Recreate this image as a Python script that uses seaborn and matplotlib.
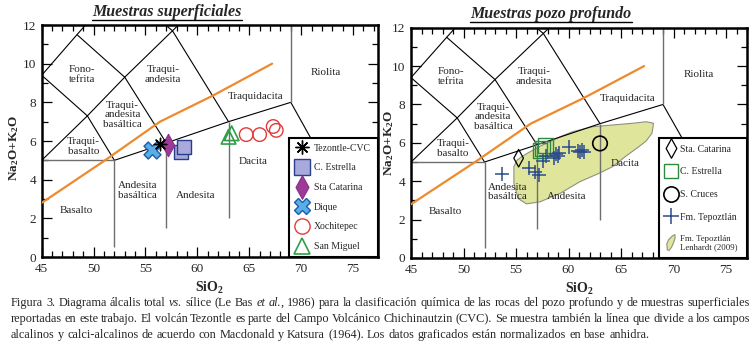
import numpy as np
import pandas as pd
import matplotlib
matplotlib.use("Agg")
import matplotlib.pyplot as plt
import matplotlib.patches as mpatches
from matplotlib.lines import Line2D
from matplotlib.path import Path
from matplotlib.legend_handler import HandlerPatch
import seaborn as sns

# ---------------- data ----------------
# Alkaline / sub-alkaline divide (Macdonald & Katsura 1964)
mk_sio2 = [45.0, 51.1, 56.4, 61.5, 67.2]
mk_alk = [2.8, 5.0, 7.0, 8.35, 10.0]

# Surface samples (left panel)
tez_sio2, tez_alk = [56.4], [5.85]
estr_sio2, estr_alk = [58.4, 58.7], [5.45, 5.7]
stac_sio2, stac_alk = [57.2], [5.8]
dique_sio2, dique_alk = [55.6], [5.55]
xoch_sio2 = [64.7, 66.0, 67.3, 67.6]
xoch_alk = [6.33, 6.33, 6.75, 6.55]
smig_sio2, smig_alk = [63.0, 63.3], [6.22, 6.4]

# Deep-well samples (right panel)
p_stac_sio2, p_stac_alk = [55.25], [5.2]
p_estr_sio2 = [57.3, 57.55, 57.8]
p_estr_alk = [5.6, 5.72, 5.85]
p_cruc_sio2, p_cruc_alk = [63.0], [5.97]
tep_sio2 = [53.7, 56.2, 56.8, 57.15, 57.6, 57.9, 58.6, 58.8, 59.0, 59.1, 60.0, 60.9, 61.1, 61.3, 61.5]
tep_alk = [4.4, 4.67, 4.5, 4.33, 5.05, 5.3, 5.2, 5.4, 5.3, 5.45, 5.78, 5.6, 5.5, 5.62, 5.5]
# Lenhardt (2009) Fm. Tepoztlán field outline
len_sio2 = [54.8, 55.1, 55.6, 56.35, 57.2, 57.9, 59.2, 60.4, 62.3, 64.2, 66.1, 67.4, 68.1,
            67.95, 67.4, 66.7, 65.4, 64.2, 62.9, 61.1, 59.2, 57.3, 56.0, 55.2, 54.8]
len_alk = [4.76, 5.1, 5.3, 5.54, 5.8, 5.98, 6.32, 6.58, 6.84, 6.93, 7.02, 7.1, 7.02,
           6.5, 6.1, 5.8, 5.28, 4.76, 4.41, 3.98, 3.37, 2.93, 2.82, 3.1, 3.9]

# TAS field boundaries (Le Bas et al. 1986)
tas_black = [
    [(45, 5), (49.4, 7.3), (52, 5)],
    [(45, 9.4), (49.4, 7.3), (53, 9.3), (57, 5.9)],
    [(45, 9.4), (48.4, 11.5), (53, 9.3), (57.6, 11.7), (63, 7)],
    [(48.4, 11.5), (52.5, 14)],
    [(57.6, 11.7), (52.5, 14)],
    [(57.6, 11.7), (61, 13.5)],
    [(52, 5), (57, 5.9), (63, 7), (69, 8)],
    [(69, 8), (77.3, 0)],
]
tas_grey = [
    [(45, 5), (52, 5)],
    [(52, 0.5), (52, 5)],
    [(57, 1.5), (57, 5.9)],
    [(63, 2), (63, 7)],
    [(69, 8), (69, 12)],
]
field_labels = [
    ("Fono-\ntefrita", 48.85, 9.45),
    ("Traqui-\nandesita", 56.7, 9.45),
    ("Riolita", 72.4, 9.55),
    ("Traquidacita", 65.6, 8.3),
    ("Traqui-\nandesita\nbasáltica", 52.8, 7.35),
    ("Traqui-\nbasalto", 49.0, 5.72),
    ("Dacita", 65.4, 4.95),
    ("Andesita\nbasáltica", 54.2, 3.45),
    ("Andesita", 59.8, 3.2),
    ("Basalto", 48.3, 2.43),
]

# ---------------- style ----------------
sns.set_style("white")
SERIF = ["Liberation Serif", "DejaVu Serif"]
plt.rcParams["font.family"] = SERIF
plt.rcParams["mathtext.fontset"] = "custom"
plt.rcParams["mathtext.rm"] = "Liberation Serif"
plt.rcParams["mathtext.bf"] = "Liberation Serif:bold"
plt.rcParams["mathtext.it"] = "Liberation Serif:italic"

W, H = 755, 348
fig = plt.figure(figsize=(W / 100, H / 100), dpi=100)
fig.patch.set_facecolor("white")

ax1 = fig.add_axes([41.7 / W, 1 - 257 / H, (378 - 41.7) / W, (257 - 25) / H])
ax2 = fig.add_axes([411 / W, 1 - 258 / H, (747 - 411) / W, (258 - 27.7) / H])

ORANGE = "#ef8a2c"
GREY = "#6e6e6e"


def tall_diamond():
    return Path([(0, 1), (0.55, 0), (0, -1), (-0.55, 0), (0, 1)],
                [Path.MOVETO, Path.LINETO, Path.LINETO, Path.LINETO, Path.CLOSEPOLY])


DIAM = tall_diamond()


def setup_axes(ax, xmax):
    ax.set_xlim(45, xmax)
    ax.set_ylim(0, 12)
    for segs, col, lw in ((tas_black, "black", 0.8), (tas_grey, GREY, 1.0)):
        for seg in segs:
            xs, ys = zip(*seg)
            ax.plot(xs, ys, color=col, lw=lw, zorder=2, solid_capstyle="butt")
    mk = pd.DataFrame({"SiO2": mk_sio2, "alk": mk_alk})
    sns.lineplot(data=mk, x="SiO2", y="alk", ax=ax, color=ORANGE, lw=1.6,
                 zorder=3, sort=False, estimator=None)
    for txt, x, y in field_labels:
        ax.text(x, y, txt, ha="center", va="center", fontsize=8,
                linespacing=1.08, zorder=3, family=SERIF)
    ax.set_xticks(range(45, 80, 5))
    ax.set_xticks(range(45, 78), minor=True)
    ax.set_yticks(range(0, 13, 2))
    ax.set_yticks(range(0, 13), minor=True)
    ax.tick_params(which="both", direction="in", top=True, right=True,
                   bottom=True, left=True, width=0.9, color="black")
    ax.tick_params(which="major", length=7, labelsize=9.5, pad=4)
    ax.tick_params(which="minor", length=4.5)
    for s in ax.spines.values():
        s.set_linewidth(1.8)
        s.set_color("black")
    ax.set_xlabel(r"SiO$_\mathbf{2}$", fontsize=10, fontweight="bold", labelpad=4)
    ax.set_ylabel(r"Na$_\mathbf{2}$O+K$_\mathbf{2}$O", fontsize=9.5, fontweight="bold")


setup_axes(ax1, 77.4)
setup_axes(ax2, 76.6)
ax1.yaxis.set_label_coords(-0.061, 0.47)
ax2.yaxis.set_label_coords(-0.045, 0.5)


def scat(ax, xs, ys, **kw):
    sns.scatterplot(x=xs, y=ys, ax=ax, legend=False, zorder=5, **kw)


# ---- left panel markers ----
scat(ax1, dique_sio2, dique_alk, marker="X", s=150, color="#58aee6",
     edgecolor="#1f5ca6", linewidth=1.0)
scat(ax1, estr_sio2, estr_alk, marker="s", s=110, color="#a9aadb",
     edgecolor="#283f8f", linewidth=1.0)
scat(ax1, stac_sio2, stac_alk, marker=DIAM, s=260, color="#9c3b97",
     edgecolor="#8a2e86", linewidth=0.8)
scat(ax1, tez_sio2, tez_alk, marker=(8, 2, 0), s=80, color="black",
     linewidth=1.0)
scat(ax1, smig_sio2, smig_alk, marker="^", s=110, facecolor="none",
     edgecolor="#2f9e48", linewidth=1.2)
scat(ax1, xoch_sio2, xoch_alk, marker="o", s=95, facecolor="none",
     edgecolor="#e23a3a", linewidth=1.0)

# ---- right panel ----
ax2.fill(len_sio2, len_alk, facecolor="#dfe59b", edgecolor="#8f9080",
         lw=0.8, zorder=1)
scat(ax2, p_stac_sio2, p_stac_alk, marker=DIAM, s=160, facecolor="none",
     edgecolor="black", linewidth=0.9)
scat(ax2, p_estr_sio2, p_estr_alk, marker="s", s=110, facecolor="none",
     edgecolor="#2b8a3e", linewidth=1.0)
scat(ax2, p_cruc_sio2, p_cruc_alk, marker="o", s=110, facecolor="none",
     edgecolor="black", linewidth=1.2)
scat(ax2, tep_sio2, tep_alk, marker="+", s=110, color="#2b4c8c",
     linewidth=1.1)

# ---------------- legends ----------------
left_handles = [
    Line2D([], [], ls="", marker=(8, 2, 0), ms=10, color="black", mew=1.0),
    Line2D([], [], ls="", marker="s", ms=11, mfc="#a9aadb", mec="#283f8f", mew=1.0),
    Line2D([], [], ls="", marker=DIAM, ms=17, mfc="#9c3b97", mec="#8a2e86", mew=0.8),
    Line2D([], [], ls="", marker="X", ms=12, mfc="#58aee6", mec="#1f5ca6", mew=1.0),
    Line2D([], [], ls="", marker="o", ms=11, mfc="none", mec="#e23a3a", mew=1.0),
    Line2D([], [], ls="", marker="^", ms=12, mfc="none", mec="#2f9e48", mew=1.2),
]
left_labels = ["Tezontle-CVC", "C. Estrella", "Sta Catarina", "Dique",
               "Xochitepec", "San Miguel"]


class BlobHandler(HandlerPatch):
    def create_artists(self, legend, orig_handle, xdescent, ydescent,
                       width, height, fontsize, trans):
        pts = [(0.15, 0.05), (0.1, 0.4), (0.3, 0.8), (0.7, 1.15), (0.95, 1.25),
               (0.95, 0.9), (0.8, 0.5), (0.6, 0.1), (0.35, -0.2), (0.15, -0.15)]
        verts = [(-xdescent + px * width, -ydescent + py * height * 1.6 - height * 0.3)
                 for px, py in pts]
        p = mpatches.Polygon(verts, closed=True, facecolor=orig_handle.get_facecolor(),
                             edgecolor=orig_handle.get_edgecolor(), lw=0.8,
                             transform=trans)
        return [p]


blob = mpatches.Patch(facecolor="#dfe59b", edgecolor="#8f9080")
right_handles = [
    Line2D([], [], ls="", marker=DIAM, ms=14, mfc="none", mec="black", mew=0.9),
    Line2D([], [], ls="", marker="s", ms=10, mfc="none", mec="#2b8a3e", mew=1.0),
    Line2D([], [], ls="", marker="o", ms=11, mfc="none", mec="black", mew=1.2),
    Line2D([], [], ls="", marker="+", ms=12, color="#2b4c8c", mew=1.1),
    blob,
]
right_labels = ["Sta. Catarina", "C. Estrella", "S. Cruces", "Fm. Tepoztlán",
                "Fm. Tepoztlán\nLenhardt (2009)"]

leg1 = ax1.legend(left_handles, left_labels, loc="lower left",
                  bbox_to_anchor=(0.735, 0.0, 0.265, 0.5), mode="expand",
                  borderaxespad=0, fancybox=False, edgecolor="black",
                  framealpha=1, handlelength=1.4, handletextpad=0.6,
                  labelspacing=1.1, borderpad=0.6, prop={"family": SERIF, "size": 7})
leg1.get_frame().set_linewidth(1.5)
leg1.set_zorder(10)

leg2 = ax2.legend(right_handles, right_labels, loc="lower left",
                  bbox_to_anchor=(0.738, 0.0, 0.262, 0.5), mode="expand",
                  borderaxespad=0, fancybox=False, edgecolor="black",
                  framealpha=1, handlelength=1.0, handletextpad=0.5,
                  labelspacing=1.4, borderpad=0.7,
                  handler_map={mpatches.Patch: BlobHandler()},
                  prop={"family": SERIF, "size": 7})
leg2.get_frame().set_linewidth(1.5)
leg2.get_texts()[4].set_fontsize(6.3)
leg2.get_texts()[4].set_linespacing(1.0)
leg2.set_zorder(10)

# ---------------- titles ----------------
renderer = fig.canvas.get_renderer()
for txt, cx, cy in (("Muestras superficiales", 167, 12), ("Muestras pozo profundo", 551, 14)):
    t = fig.text(cx / W, 1 - cy / H, txt, ha="center", va="center", fontsize=11.5,
                 fontweight="bold", style="italic", family=SERIF)
    bb = t.get_window_extent(renderer)
    yline = bb.y0 + 0.5
    fig.add_artist(Line2D([bb.x0 / W, bb.x1 / W], [yline / H, yline / H],
                          color="black", lw=1.0, transform=fig.transFigure))

# ---------------- caption (justified) ----------------
N, I = "normal", "italic"
cap_lines = [
    ([[("Figura", N)], [("3.", N)], [("Diagrama", N)], [("álcalis", N)], [("total", N)],
      [("vs.", I)], [("sílice", N)], [("(Le", N)], [("Bas", N)], [("et", I)],
      [("al.", I), (",", N)], [("1986)", N)]] +
     [[(w, N)] for w in "para la clasificación química de las rocas del pozo profundo y de muestras superficiales".split()],
     True),
    ([[(w, N)] for w in "reportadas en este trabajo. El volcán Tezontle es parte del Campo Volcánico Chichinautzin (CVC). Se muestra también la línea que divide a los campos".split()],
     True),
    ([[(w, N)] for w in "alcalinos y calci-alcalinos de acuerdo con Macdonald y Katsura (1964). Los datos graficados están normalizados en base anhidra.".split()],
     False),
]
CAP_SIZE = 8.8
X0, X1 = 11, 750
baselines = [306, 322, 338]


def text_w(s, style):
    t = fig.text(0, 0, s, fontsize=CAP_SIZE, style=style, family=SERIF)
    w = t.get_window_extent(renderer).width
    t.remove()
    return w


space_w = text_w("a a", N) - text_w("aa", N)

for (words, justify), yb in zip(cap_lines, baselines):
    placed = []
    total = 0.0
    for word in words:
        pieces = []
        wsum = 0.0
        for s, st in word:
            t = fig.text(0, 1 - yb / H, s, fontsize=CAP_SIZE, style=st, family=SERIF,
                         va="baseline", ha="left")
            w = t.get_window_extent(renderer).width
            pieces.append((t, w))
            wsum += w
        placed.append((pieces, wsum))
        total += wsum
    gap = (X1 - X0 - total) / (len(placed) - 1) if justify else space_w
    x = X0
    for pieces, wsum in placed:
        xx = x
        for t, w in pieces:
            t.set_x(xx / W)
            xx += w
        x += wsum + gap

fig.savefig("out.png", dpi=100, facecolor="white")
